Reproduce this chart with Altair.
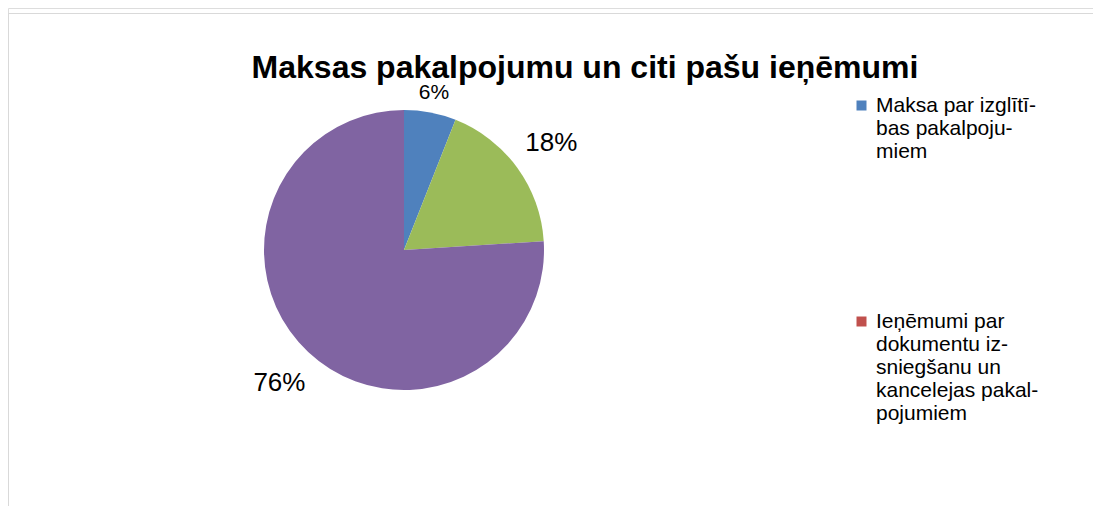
import altair as alt
import pandas as pd

title_text = "Maksas pakalpojumu un citi pašu ieņēmumi"
categories = [
    "Maksa par izglītī-|bas pakalpoju-|miem",
    "Ieņēmumi par|dokumentu iz-|sniegšanu un|kancelejas pakal-|pojumiem",
    "Citi ieņēmumi",
    "Pārējie pašu ieņēmumi",
]
values = [6, 0, 18, 76]
pct_labels = ["6%", "", "18%", "76%"]
colors = ["#4f81bd", "#c0504d", "#9bbb59", "#8064a2"]

df = pd.DataFrame({
    "cat": categories,
    "val": values,
    "lbl": pct_labels,
    "ord": list(range(len(categories))),
})

W, H = 1085, 498
FONT = "Liberation Sans"
CX, CY = 396, 242

color = alt.Color(
    "cat:N",
    scale=alt.Scale(domain=categories, range=colors),
    legend=alt.Legend(
        title=None,
        orient="none",
        legendX=843,
        legendY=87,
        values=categories[:2],
        symbolType="square",
        symbolSize=100,
        symbolStrokeWidth=0,
        labelFont=FONT,
        labelFontSize=21,
        labelColor="#000000",
        labelLimit=400,
        labelOffset=4,
        labelBaseline="middle",
        labelExpr="split(datum.label, '|')",
        rowPadding=148,
        padding=0,
    ),
)

base = alt.Chart(df).encode(
    theta=alt.Theta("val:Q", stack=True),
    order=alt.Order("ord:Q"),
)

pie = base.mark_arc(radius=140, stroke=None).encode(
    color=color,
    x=alt.value(CX),
    y=alt.value(CY),
)

# small slices: label closer and smaller
labels_small = base.mark_text(font=FONT, color="#000000", radius=160, fontSize=21).encode(
    text="lbl:N",
    x=alt.value(CX),
    y=alt.value(CY),
    opacity=alt.condition("datum.val > 0 && datum.val < 10", alt.value(1), alt.value(0)),
)
labels_big = base.mark_text(font=FONT, color="#000000", radius=182, fontSize=26).encode(
    text="lbl:N",
    x=alt.value(CX),
    y=alt.value(CY),
    opacity=alt.condition("datum.val >= 10", alt.value(1), alt.value(0)),
)

title = alt.Chart(pd.DataFrame({"t": [title_text]})).mark_text(
    font=FONT, fontSize=32, fontWeight="bold", color="#000000", baseline="middle"
).encode(text="t:N", x=alt.value(577), y=alt.value(60))

top_line = alt.Chart(pd.DataFrame({"a": [0]})).mark_rule(color="#d9d9d9", strokeWidth=1).encode(
    x=alt.value(0), x2=alt.value(W), y=alt.value(5.5)
)
left_line = alt.Chart(pd.DataFrame({"a": [0]})).mark_rule(color="#d9d9d9", strokeWidth=1).encode(
    x=alt.value(0.5), y=alt.value(5), y2=alt.value(H)
)

chart = alt.layer(top_line, left_line, pie, labels_small, labels_big, title).properties(
    width=W,
    height=H,
    autosize=alt.AutoSizeParams(type="none"),
    padding=0,
).configure_view(stroke=None).configure(background="#ffffff")

chart.save("out.html", embed_options={"renderer": "svg", "actions": False})
